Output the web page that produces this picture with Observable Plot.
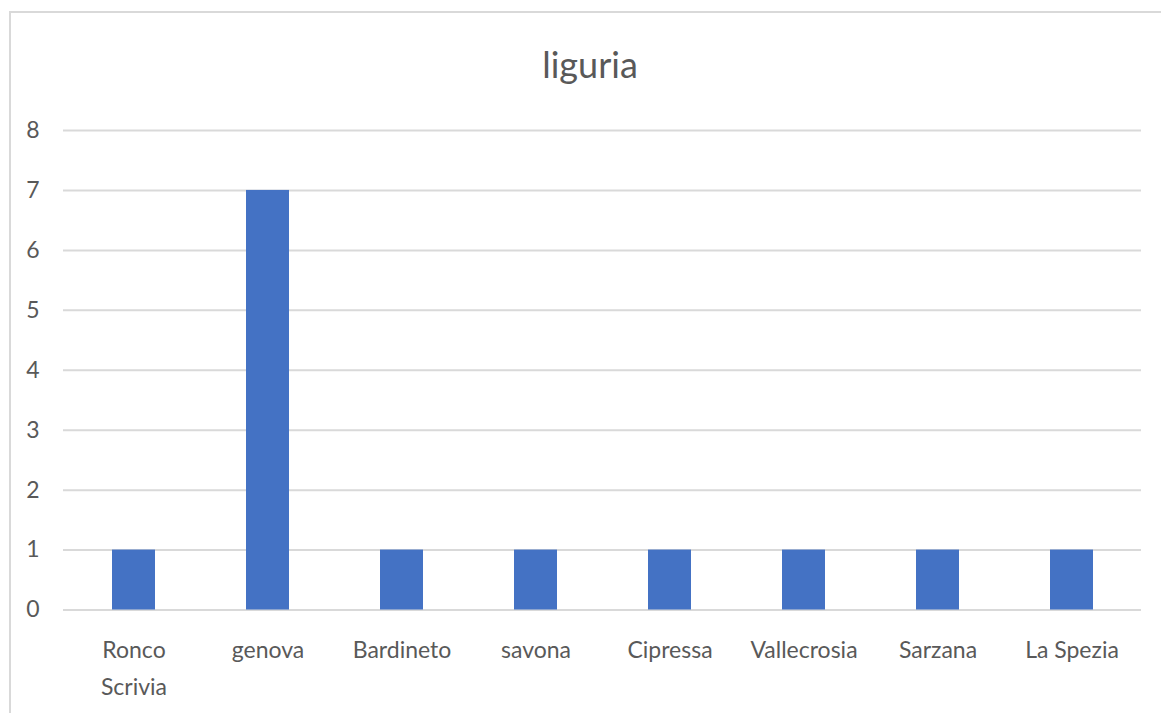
<!DOCTYPE html>
<html><head><meta charset="utf-8">
<script src="https://cdn.jsdelivr.net/npm/d3@7"></script>
<script src="https://cdn.jsdelivr.net/npm/@observablehq/plot@0.6"></script>
<style>
html,body{margin:0;padding:0;background:#fff;width:1161px;height:713px;overflow:hidden;font-family:Lato,sans-serif;}
#frame{position:absolute;left:9px;top:11px;width:1170px;height:720px;border-left:2px solid #d9d9d9;border-top:2px solid #d9d9d9;box-sizing:border-box;}
#title{position:absolute;left:9px;width:1162px;top:46px;text-align:center;font-size:36px;line-height:36px;color:#595959;font-family:Lato,sans-serif;}
#chart{position:absolute;left:0;top:90px;}
</style></head>
<body>
<div id="frame"></div>
<div id="title">liguria</div>
<div id="chart"></div>
<script>
const categories = ["Ronco Scrivia", "genova", "Bardineto", "savona", "Cipressa", "Vallecrosia", "Sarzana", "La Spezia"];
const values = [1, 7, 1, 1, 1, 1, 1, 1];
const yTicks = [0, 1, 2, 3, 4, 5, 6, 7, 8];

const data = categories.map((c, i) => ({city: c, value: values[i]}));

const plot = Plot.plot({
  width: 1161,
  height: 623,
  marginLeft: 63,
  marginRight: 20,
  marginTop: 40,
  marginBottom: 103.5,
  style: {fontFamily: "Lato, sans-serif", color: "#595959", background: "transparent"},
  x: {domain: categories, paddingInner: 0.68, paddingOuter: 0.34, label: null},
  y: {domain: [0, 8], label: null},
  marks: [
    Plot.gridY(yTicks, {stroke: "#d9d9d9", strokeOpacity: 1, strokeWidth: 2}),
    Plot.barY(data, {x: "city", y: "value", fill: "#4472c4"}),
    Plot.axisY(yTicks, {tickSize: 0, tickPadding: 24, fontSize: 23, fill: "#595959", tickFormat: "d", label: null}),
    Plot.axisX({tickSize: 0, tickPadding: 22, fontSize: 23, fill: "#595959", lineWidth: 5.5, lineHeight: 1.6, label: null})
  ]
});
document.getElementById("chart").appendChild(plot);
</script>
</body></html>
